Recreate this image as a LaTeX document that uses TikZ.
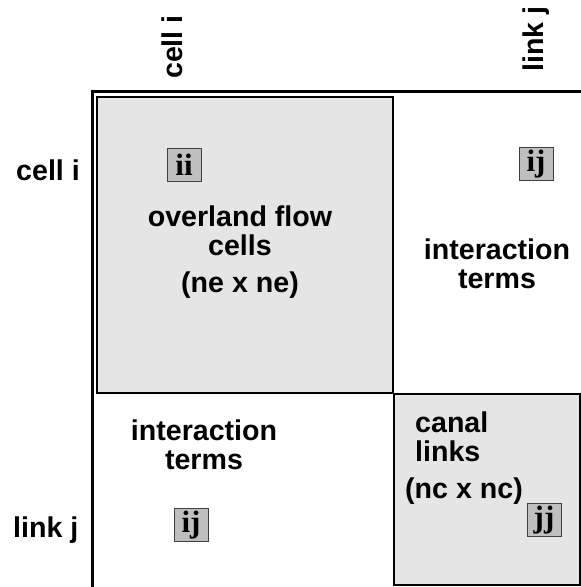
\documentclass[tikz,border=0pt]{standalone}
\usepackage{fontspec}
\setmainfont{Liberation Sans}
\newfontfamily\tagfont{Liberation Serif}
\tikzset{
    blocktext/.style={align=center, inner sep=0pt, font={\fontsize{28.6}{29}\selectfont\bfseries}},
    tagbox/.style={draw=black!75, fill=black!25, line width=1pt, minimum width=34pt, minimum height=33pt,
        inner sep=0pt, font={\fontsize{31}{31}\tagfont\bfseries}},
}
\begin{document}
\begin{tikzpicture}[x=1pt, y=-1pt]
                \useasboundingbox (0,0) rectangle (581,587);
                % shaded blocks of the matrix
                \draw[line width=2pt, fill=black!10]
                    (97,97) rectangle (392.5,392.5)
                    (393.5,393.5) rectangle (579.5,584.5);
                % outer frame
                \draw[line width=2.5pt] (92.5,587) -- (92.5,91.5) -- (581,91.5);
                % row and column headings
                \node[blocktext, anchor=base west] (rowcell) at (16,180) {cell i};
                \node[blocktext, anchor=base west] (rowlink) at (13,537) {link j};
                \node[blocktext, rotate=90, anchor=base west] (colcell) at (182,79) {cell i};
                \node[blocktext, rotate=90, anchor=base west] (collink) at (543,72) {link j};
                % block texts
                \node[blocktext, anchor=north] (overland) at (240,206) {overland flow\\cells\\[8pt](ne x ne)};
                \node[blocktext, anchor=north] (termsright) at (497,239) {interaction\\terms};
                \node[blocktext, anchor=north] (termsleft) at (204,420) {interaction\\terms};
                \node[blocktext, align=left, anchor=north west] (canal) at (415,412) {canal\\links};
                \node[blocktext, anchor=base west] (ncnc) at (405,498) {(nc x nc)};
                % block tags
                \node[tagbox] (tagii) at (184,165) {ii};
                \node[tagbox] (tagij) at (536,164) {ij};
                \node[tagbox] (tagji) at (191,525) {ij};
                \node[tagbox] (tagjj) at (544,520) {jj};
            \end{tikzpicture}
\end{document}
